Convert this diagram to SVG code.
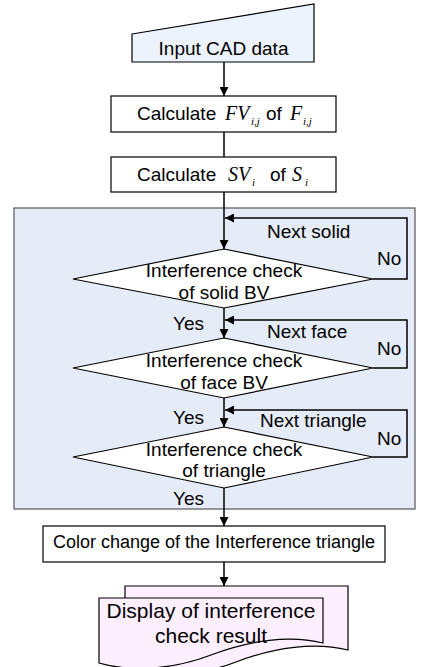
<svg xmlns="http://www.w3.org/2000/svg" width="429" height="667" viewBox="0 0 429 667">
<style>
.t{font-family:"Liberation Sans",Arial,sans-serif;font-size:19px;fill:#000}
.m{font-family:"Liberation Serif","Times New Roman",serif;font-style:italic;font-size:20px;fill:#000}
.s{font-family:"Liberation Serif","Times New Roman",serif;font-style:italic;font-size:11px;fill:#000}
.box{fill:#fff;stroke:#000;stroke-width:1.2}
.dia{fill:#fff;stroke:#000;stroke-width:1.2}
.c{fill:none;stroke:#000;stroke-width:1.5}
.doc{fill:#fdeffd;stroke:#000;stroke-width:1.2}
</style>
<defs>
<marker id="ah" viewBox="0 0 10 10" refX="10" refY="5" markerWidth="10" markerHeight="9" markerUnits="userSpaceOnUse" orient="auto">
<path d="M0,0 L10,5 L0,10 Z" fill="#000"/>
</marker>
</defs>
<rect id="loop-region" x="14" y="208" width="401" height="301" fill="#e5ebf7" stroke="#555" stroke-width="1.2"/>
<g id="input">
<polygon points="132,34 314,4 314,62 132,62" fill="#edf3fc" stroke="#000" stroke-width="1.2"/>
<text class="t" x="223.5" y="55" text-anchor="middle">Input CAD data</text>
</g>
<g id="calc-fv">
<rect class="box" x="111" y="96" width="225" height="36"/>
<text class="t" x="137" y="120">Calculate</text>
<text class="m" x="225" y="120">FV</text>
<text class="s" x="251" y="125">i,j</text>
<text class="t" x="266" y="120">of</text>
<text class="m" x="290" y="120">F</text>
<text class="s" x="303" y="125">i,j</text>
</g>
<g id="calc-sv">
<rect class="box" x="111" y="157" width="225" height="35"/>
<text class="t" x="137" y="181">Calculate</text>
<text class="m" x="228" y="181">SV</text>
<text class="s" x="252" y="186">i</text>
<text class="t" x="270" y="181">of</text>
<text class="m" x="292" y="181">S</text>
<text class="s" x="305" y="186">i</text>
</g>
<g id="check-solid">
<polygon class="dia" points="224,249 373,279 224,308 73,279"/>
<text class="t" x="224" y="277" text-anchor="middle">Interference check</text>
<text class="t" x="224" y="299" text-anchor="middle">of solid BV</text>
</g>
<g id="check-face">
<polygon class="dia" points="224,338 373,368 224,398 73,368"/>
<text class="t" x="224" y="367" text-anchor="middle">Interference check</text>
<text class="t" x="224" y="389" text-anchor="middle">of face BV</text>
</g>
<g id="check-triangle">
<polygon class="dia" points="224,427 373,457 224,488 73,457"/>
<text class="t" x="224" y="456" text-anchor="middle">Interference check</text>
<text class="t" x="224" y="477" text-anchor="middle">of triangle</text>
</g>
<g id="color-change">
<rect class="box" x="43" y="526" width="342" height="36"/>
<text class="t" x="214" y="548" text-anchor="middle" style="font-size:18px">Color change of the Interference triangle</text>
</g>
<g id="display">
<path class="doc" d="M125,586 H348 V650 C315,642 275,647 236,662 C200,676 160,676 125,668 Z"/>
<path class="doc" d="M99,598 H323 V643 C290,635 250,640 211,655 C172,670 130,672 99,663 Z"/>
<text class="t" x="211" y="618" text-anchor="middle" style="font-size:21px">Display of interference</text>
<text class="t" x="211" y="643" text-anchor="middle" style="font-size:21px">check result</text>
</g>
<g id="connectors">
<path class="c" d="M224,62 V96" marker-end="url(#ah)"/>
<path class="c" d="M224,132 V157"/>
<path class="c" d="M224,192 V249" marker-end="url(#ah)"/>
<path class="c" d="M224,308 V338" marker-end="url(#ah)"/>
<path class="c" d="M224,398 V427" marker-end="url(#ah)"/>
<path class="c" d="M224,488 V526" marker-end="url(#ah)"/>
<path class="c" d="M224,562 V586" marker-end="url(#ah)"/>
<path class="c" d="M373,279 H407 V218 H225" marker-end="url(#ah)"/>
<path class="c" d="M373,368 H407 V320 H225" marker-end="url(#ah)"/>
<path class="c" d="M373,457 H407 V410 H225" marker-end="url(#ah)"/>
</g>
<g id="labels">
<text class="t" x="267" y="238">Next solid</text>
<text class="t" x="377" y="265">No</text>
<text class="t" x="267" y="338">Next face</text>
<text class="t" x="377" y="355">No</text>
<text class="t" x="260" y="427">Next triangle</text>
<text class="t" x="377" y="445">No</text>
<text class="t" x="173" y="330">Yes</text>
<text class="t" x="173" y="424">Yes</text>
<text class="t" x="173" y="505">Yes</text>
</g>
</svg>
